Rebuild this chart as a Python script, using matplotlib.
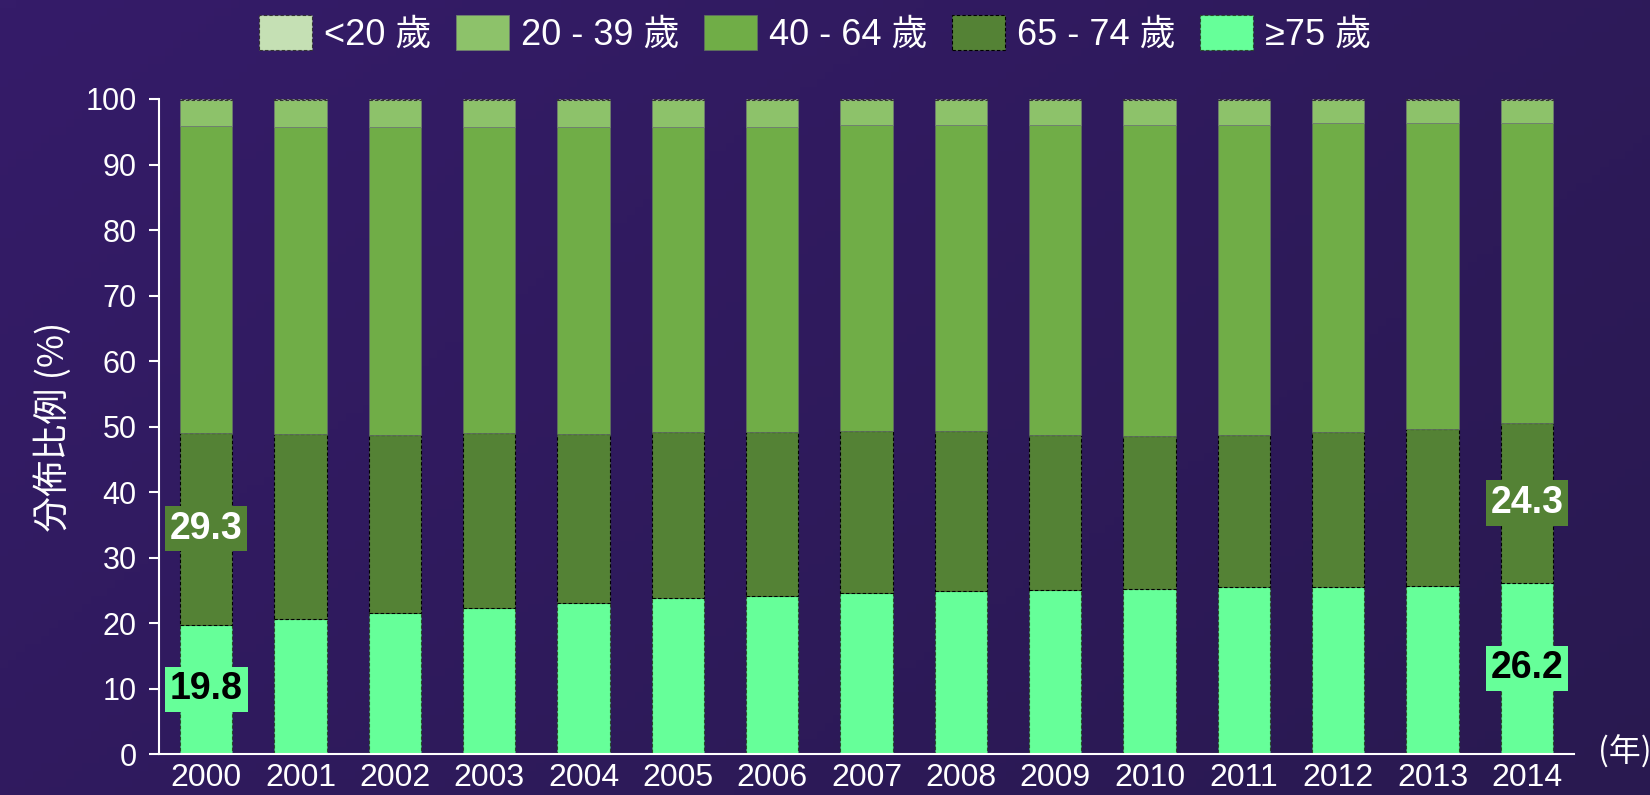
import numpy as np
import matplotlib
matplotlib.use("Agg")
import matplotlib.pyplot as plt
from matplotlib.colors import LinearSegmentedColormap

plt.rcParams['font.family'] = ['Liberation Sans', 'Noto Sans CJK TC', 'DejaVu Sans']

years = [str(y) for y in range(2000, 2015)]
groups = ['<20 歲', '20 - 39 歲', '40 - 64 歲', '65 - 74 歲', '≥75 歲']

# share of each age group (%)
age_75 = [19.8, 20.6, 21.5, 22.4, 23.1, 23.8, 24.2, 24.6, 24.9, 25.1, 25.2, 25.5, 25.6, 25.7, 26.2]
age_65_74 = [29.3, 28.3, 27.3, 26.6, 25.8, 25.4, 25.0, 24.7, 24.4, 23.7, 23.4, 23.3, 23.6, 23.9, 24.3]
age_40_64 = [46.8, 46.9, 47.0, 46.8, 46.9, 46.6, 46.6, 46.7, 46.8, 47.3, 47.5, 47.3, 47.1, 46.7, 45.9]
age_20_39 = [3.9, 4.0, 4.0, 4.0, 4.0, 4.0, 4.0, 3.8, 3.7, 3.7, 3.7, 3.7, 3.5, 3.5, 3.4]
age_u20 = [0.2] * 15

# labelled values: (year index, series)
labelled = [(0, 'age_65_74'), (0, 'age_75'), (14, 'age_65_74'), (14, 'age_75')]

colors = ['#C5E0B4', '#8DC26A', '#70AD47', '#548235', '#66FF99']

fig = plt.figure(figsize=(16.5, 7.95), dpi=100)

# gradient background
bg = fig.add_axes([0, 0, 1, 1], zorder=-10)
cmap = LinearSegmentedColormap.from_list('bg', ['#351C69', '#291950'])
gx, gy = np.meshgrid(np.linspace(0, 1, 200), np.linspace(0, 1, 100))
bg.imshow(0.6 * gx + 0.4 * gy, cmap=cmap, aspect='auto', extent=[0, 1, 0, 1], origin='upper')
bg.axis('off')

ax = fig.add_axes([0.0964, 0.0512, 0.8576, 0.8243])
ax.set_facecolor('none')

idx = np.arange(len(years))
w = 0.554
dash = (0, (3, 2))

b75 = np.array(age_75)
b65 = b75 + np.array(age_65_74)
b40 = b65 + np.array(age_40_64)
b20 = b40 + np.array(age_20_39)

bars75 = ax.bar(idx, age_75, w, color=colors[4], edgecolor='#2a4a2a', linewidth=0.8,
                linestyle=dash, label=groups[4])
bars65 = ax.bar(idx, age_65_74, w, bottom=b75, color=colors[3], edgecolor='black',
                linewidth=0.8, linestyle=dash, label=groups[3])
bars40 = ax.bar(idx, age_40_64, w, bottom=b65, color=colors[2], edgecolor='#5f6f5f',
                linewidth=0.6, label=groups[2])
bars20 = ax.bar(idx, age_20_39, w, bottom=b40, color=colors[1], edgecolor='#6f7f6f',
                linewidth=0.6, label=groups[1])
barsu = ax.bar(idx, age_u20, w, bottom=b20, color=colors[0], edgecolor='#333333',
               linewidth=0.8, linestyle=dash, label=groups[0])

series = {'age_75': (age_75, np.zeros(len(years)), colors[4], 'black'),
          'age_65_74': (age_65_74, b75, colors[3], 'white')}
for i, key in labelled:
    vals, base, fc, tc = series[key]
    ax.text(i, base[i] + vals[i] / 2, f'{vals[i]:.1f}', ha='center', va='center',
            fontsize=27, fontweight='bold', color=tc,
            bbox=dict(boxstyle='square,pad=0.13', fc=fc, ec='none'))

ax.set_xlim(-0.5, 14.5)
ax.set_ylim(0, 100)
ax.set_yticks(range(0, 101, 10))
ax.set_xticks(idx)
ax.set_xticklabels(years)
for s in ['top', 'right']:
    ax.spines[s].set_visible(False)
for s in ['left', 'bottom']:
    ax.spines[s].set_color('white')
    ax.spines[s].set_linewidth(1.5)
ax.tick_params(axis='y', colors='white', labelsize=22, length=7, width=1.5, pad=9)
ax.tick_params(axis='x', colors='white', labelsize=23, length=0, pad=6)

ax.set_ylabel('分佈比例 (%)', color='white', fontsize=26, labelpad=10,
              family=['Noto Sans CJK TC', 'DejaVu Sans'], fontweight='light')
fig.text(0.9685, 0.054, '(年)', color='white', fontsize=23, va='center', ha='left',
         family=['Noto Sans CJK TC', 'DejaVu Sans'], fontweight='light')

handles = [barsu, bars20, bars40, bars65, bars75]
leg = fig.legend(handles, groups, loc='center', bbox_to_anchor=(0.494, 0.957), ncol=5,
                 frameon=False, fontsize=26, handlelength=1.47, handleheight=1.08,
                 handletextpad=0.33, columnspacing=0.67)
for t in leg.get_texts():
    t.set_color('white')

fig.savefig('out.png', dpi=100)
